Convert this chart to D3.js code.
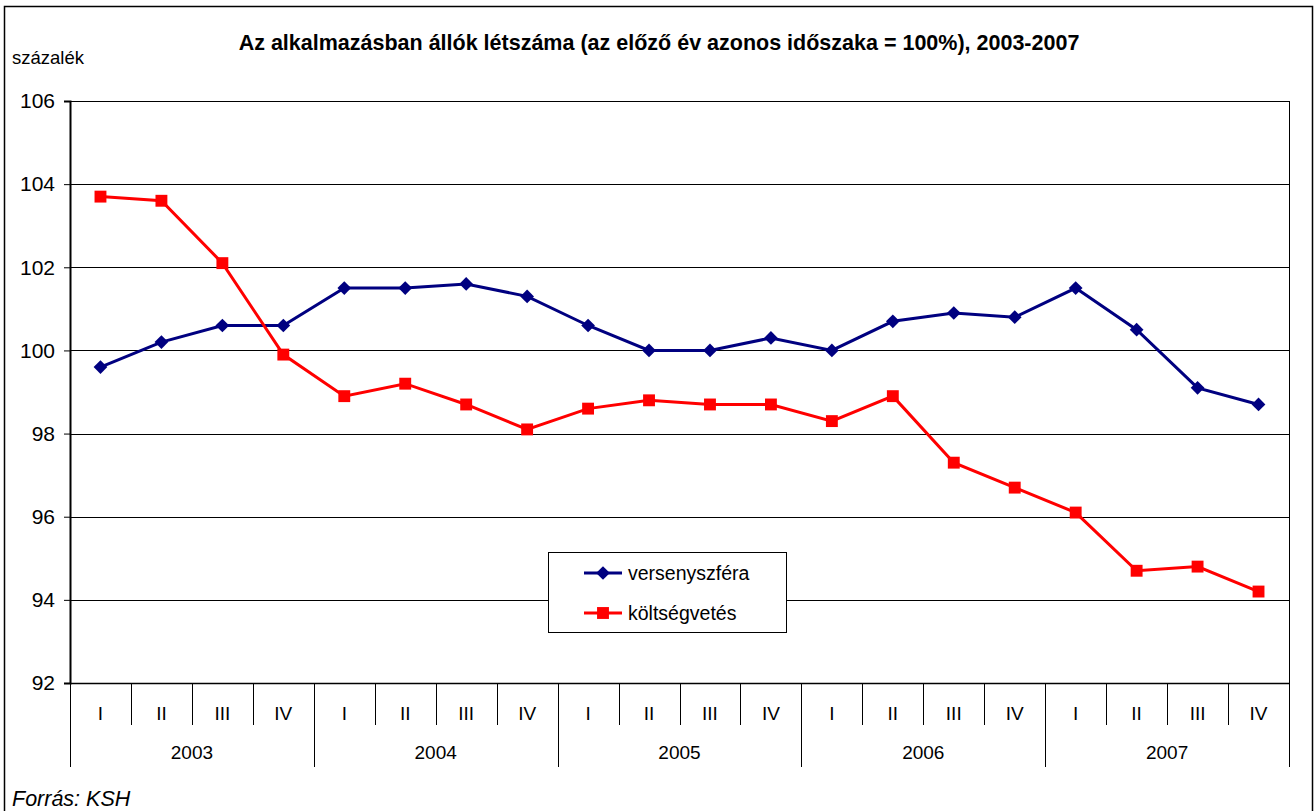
<!DOCTYPE html>
<html>
<head>
<meta charset="utf-8">
<script src="https://cdn.jsdelivr.net/npm/d3@7"></script>
<style>
  body { margin: 0; background: #fff; }
  text { font-family: "Liberation Sans", Arial, sans-serif; }
</style>
</head>
<body>
<div id="plot"></div>
<script>
// data
const years = ["2003", "2004", "2005", "2006", "2007"];
const quarters = ["I", "II", "III", "IV"];
const versenyszfera = [99.6, 100.2, 100.6, 100.6, 101.5, 101.5, 101.6, 101.3, 100.6, 100.0, 100.0, 100.3, 100.0, 100.7, 100.9, 100.8, 101.5, 100.5, 99.1, 98.7];
const koltsegvetes = [103.7, 103.6, 102.1, 99.9, 98.9, 99.2, 98.7, 98.1, 98.6, 98.8, 98.7, 98.7, 98.3, 98.9, 97.3, 96.7, 96.1, 94.7, 94.8, 94.2];
const yTicks = [92, 94, 96, 98, 100, 102, 104, 106];

const W = 1315, H = 811;
const plot = { left: 70, right: 1289, top: 101, bottom: 683 };

const cats = [];
years.forEach(y => quarters.forEach(q => cats.push(y + "-" + q)));

const svg = d3.select("#plot").append("svg")
  .attr("width", W).attr("height", H);

// outer frame
svg.append("rect")
  .attr("x", 4.5).attr("y", 6.5)
  .attr("width", 1308).attr("height", 820)
  .attr("fill", "none").attr("stroke", "#000").attr("stroke-width", 1.5);

const x = d3.scaleBand().domain(cats).range([plot.left, plot.right]);
const y = d3.scaleLinear().domain([92, 106]).range([plot.bottom, plot.top]);

// title
svg.append("text")
  .attr("x", 659).attr("y", 50)
  .attr("text-anchor", "middle")
  .style("font-size", "21.5px").style("font-weight", "bold")
  .text("Az alkalmazásban állók létszáma (az előző év azonos időszaka = 100%), 2003-2007");

svg.append("text")
  .attr("x", 12).attr("y", 64)
  .style("font-size", "18.5px")
  .text("százalék");

// gridlines
svg.append("g")
  .selectAll("line")
  .data(yTicks.filter(d => d > 92))
  .enter().append("line")
  .attr("x1", plot.left).attr("x2", plot.right)
  .attr("y1", d => Math.round(y(d)) + 0.5).attr("y2", d => Math.round(y(d)) + 0.5)
  .attr("stroke", "#000").attr("stroke-width", 1);

// plot area right border
svg.append("line")
  .attr("x1", plot.right + 0.5).attr("x2", plot.right + 0.5)
  .attr("y1", plot.top).attr("y2", plot.bottom)
  .attr("stroke", "#000");

// y axis
const yAxis = svg.append("g")
  .attr("transform", `translate(${plot.left},0)`)
  .call(d3.axisLeft(y).tickValues(yTicks).tickSize(6).tickPadding(9));
yAxis.select(".domain").attr("stroke-width", 2);
yAxis.selectAll("text").style("font-size", "21px").attr("fill", "#000")
  .style("font-family", '"Liberation Sans", Arial, sans-serif');

// x axis base line
svg.append("line")
  .attr("x1", plot.left).attr("x2", plot.right)
  .attr("y1", plot.bottom + 0.5).attr("y2", plot.bottom + 0.5)
  .attr("stroke", "#000").attr("stroke-width", 1.5);

// quarter separators
svg.append("g")
  .selectAll("line")
  .data(cats.filter((d, i) => i % 4 !== 0))
  .enter().append("line")
  .attr("x1", d => Math.round(x(d)) + 0.5).attr("x2", d => Math.round(x(d)) + 0.5)
  .attr("y1", plot.bottom).attr("y2", 725)
  .attr("stroke", "#000");

// year separators
const yearEdges = years.map((yr, i) => x(cats[i * 4])).concat([plot.right]);
svg.append("g")
  .selectAll("line")
  .data(yearEdges)
  .enter().append("line")
  .attr("x1", d => Math.round(d) + 0.5).attr("x2", d => Math.round(d) + 0.5)
  .attr("y1", plot.bottom).attr("y2", 767)
  .attr("stroke", "#000");

// quarter labels
svg.append("g")
  .selectAll("text")
  .data(cats)
  .enter().append("text")
  .attr("x", d => x(d) + x.bandwidth() / 2)
  .attr("y", 720)
  .attr("text-anchor", "middle")
  .style("font-size", "19px")
  .text(d => d.split("-")[1]);

// year labels
svg.append("g")
  .selectAll("text")
  .data(years)
  .enter().append("text")
  .attr("x", (d, i) => x(cats[i * 4]) + x.bandwidth() * 2)
  .attr("y", 759)
  .attr("text-anchor", "middle")
  .style("font-size", "19px")
  .text(d => d);

// series
const line = d3.line()
  .x((d, i) => x(cats[i]) + x.bandwidth() / 2)
  .y(d => y(d));

svg.append("path").datum(versenyszfera)
  .attr("d", line).attr("fill", "none")
  .attr("stroke", "#000080").attr("stroke-width", 3);

svg.append("path").datum(koltsegvetes)
  .attr("d", line).attr("fill", "none")
  .attr("stroke", "#ff0000").attr("stroke-width", 3);

const diamond = d3.symbol().type(d3.symbolDiamond2).size(120);
const square = d3.symbol().type(d3.symbolSquare2).size(180);

svg.append("g").selectAll("path")
  .data(versenyszfera)
  .enter().append("path")
  .attr("d", diamond)
  .attr("transform", (d, i) => `translate(${x(cats[i]) + x.bandwidth() / 2},${y(d)})`)
  .attr("fill", "#000080");

svg.append("g").selectAll("path")
  .data(koltsegvetes)
  .enter().append("path")
  .attr("d", square)
  .attr("transform", (d, i) => `translate(${x(cats[i]) + x.bandwidth() / 2},${y(d)})`)
  .attr("fill", "#ff0000");

// legend
const legend = svg.append("g");
legend.append("rect")
  .attr("x", 548.5).attr("y", 552.5).attr("width", 238).attr("height", 80)
  .attr("fill", "#fff").attr("stroke", "#000");

const legendItems = [
  { name: "versenyszféra", color: "#000080", sym: diamond, y: 573 },
  { name: "költségvetés", color: "#ff0000", sym: square, y: 613 }
];
legendItems.forEach(it => {
  legend.append("line")
    .attr("x1", 584).attr("x2", 622)
    .attr("y1", it.y).attr("y2", it.y)
    .attr("stroke", it.color).attr("stroke-width", 3);
  legend.append("path")
    .attr("d", it.sym)
    .attr("transform", `translate(603,${it.y})`)
    .attr("fill", it.color);
  legend.append("text")
    .attr("x", 628).attr("y", it.y + 7)
    .style("font-size", "19.5px")
    .text(it.name);
});

// source
svg.append("text")
  .attr("x", 12).attr("y", 806)
  .style("font-size", "21.5px").style("font-style", "italic")
  .text("Forrás: KSH");
</script>
</body>
</html>
